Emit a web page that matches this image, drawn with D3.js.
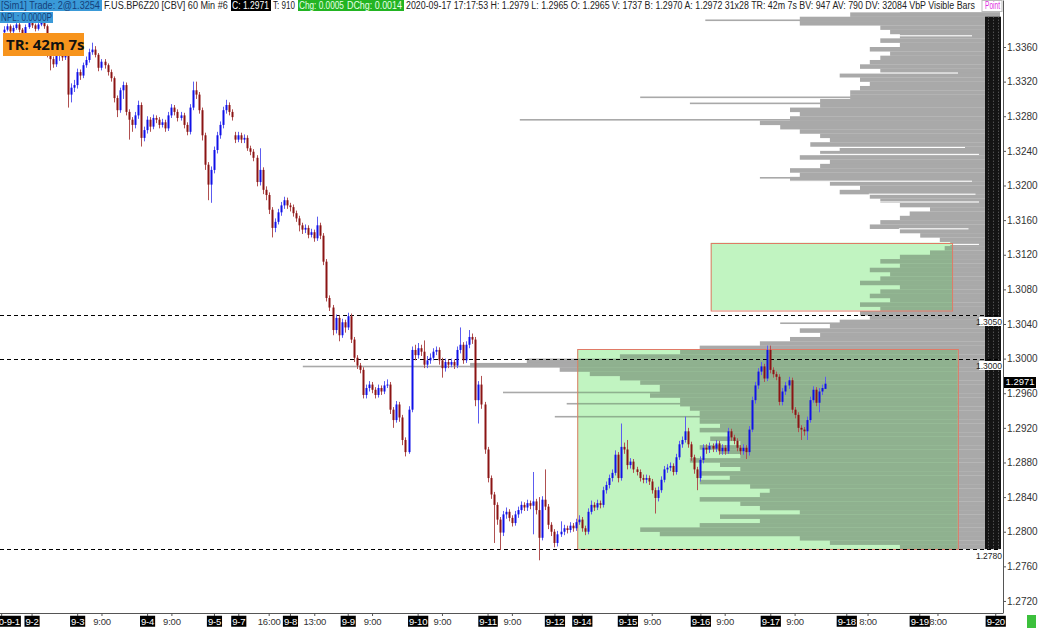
<!DOCTYPE html>
<html><head><meta charset="utf-8">
<script src="https://cdn.jsdelivr.net/npm/d3@7"></script>
<style>
body{margin:0;background:#fff;overflow:hidden;}
svg{display:block;font-family:"Liberation Sans","Open Sans",sans-serif;}
</style></head><body>
<svg id="c" width="1038" height="629"></svg>
<script>
// ---------------- DATA ----------------
const open = [1.3377,1.3380,1.3384,1.3378,1.3382,1.3386,1.3380,1.3376,1.3383,1.3388,
1.3385,1.3381,1.3386,1.3390,1.3384,1.3352,1.3346,1.3340,1.3350,1.3355,
1.3348,1.3352,1.3305,1.3313,1.3316,1.3331,1.3327,1.3339,1.3345,1.3354,
1.3357,1.3351,1.3336,1.3343,1.3339,1.3331,1.3324,1.3301,1.3287,1.3310,
1.3316,1.3285,1.3276,1.3270,1.3281,1.3293,1.3255,1.3264,1.3276,1.3268,
1.3278,1.3276,1.3270,1.3273,1.3266,1.3281,1.3290,1.3285,1.3278,1.3281,
1.3270,1.3262,1.3290,1.3310,1.3305,1.3287,1.3258,1.3224,1.3201,1.3218,
1.3241,1.3258,1.3270,1.3287,1.3293,1.3285,1.3258,1.3253,1.3258,1.3253,
1.3255,1.3243,1.3239,1.3232,1.3204,1.3218,1.3195,1.3189,1.3172,1.3151,
1.3158,1.3169,1.3177,1.3183,1.3177,1.3175,1.3168,1.3162,1.3154,1.3149,
1.3151,1.3143,1.3146,1.3139,1.3154,1.3142,1.3112,1.3070,1.3059,1.3033,
1.3047,1.3027,1.3042,1.3036,1.3049,1.3022,1.3001,1.2992,1.2987,1.2958,
1.2966,1.2970,1.2964,1.2958,1.2966,1.2962,1.2969,1.2970,1.2941,1.2929,
1.2947,1.2932,1.2906,1.2892,1.2941,1.3010,1.3004,1.3012,1.3008,1.2993,
1.2998,1.3001,1.3008,1.3010,1.2998,1.2989,1.2996,1.2993,1.2996,1.2992,
1.3010,1.3016,1.2998,1.3016,1.3025,1.3022,1.2952,1.2970,1.2947,1.2895,
1.2862,1.2843,1.2831,1.2814,1.2799,1.2820,1.2823,1.2816,1.2810,1.2820,
1.2825,1.2831,1.2828,1.2833,1.2830,1.2835,1.2825,1.2793,1.2837,1.2829,
1.2808,1.2800,1.2787,1.2797,1.2800,1.2804,1.2802,1.2807,1.2804,1.2811,
1.2814,1.2804,1.2800,1.2823,1.2831,1.2828,1.2833,1.2831,1.2848,1.2854,
1.2862,1.2868,1.2889,1.2862,1.2898,1.2895,1.2877,1.2881,1.2872,1.2869,
1.2862,1.2860,1.2862,1.2858,1.2848,1.2839,1.2848,1.2860,1.2872,1.2874,
1.2876,1.2869,1.2886,1.2901,1.2906,1.2916,1.2901,1.2886,1.2872,1.2862,
1.2883,1.2897,1.2895,1.2899,1.2896,1.2902,1.2893,1.2897,1.2893,1.2916,
1.2909,1.2905,1.2897,1.2893,1.2897,1.2892,1.2918,1.2952,1.2969,1.2985,
1.2991,1.2977,1.3010,1.2987,1.2982,1.2979,1.2950,1.2962,1.2969,1.2975,
1.2941,1.2935,1.2920,1.2918,1.2916,1.2929,1.2952,1.2964,1.2949,1.2962,
1.2965];
const high = [1.3384,1.3387,1.3386,1.3385,1.3390,1.3388,1.3382,1.3386,1.3392,1.3391,
1.3387,1.3389,1.3394,1.3392,1.3386,1.3356,1.3349,1.3354,1.3359,1.3358,
1.3356,1.3354,1.3318,1.3322,1.3335,1.3334,1.3342,1.3349,1.3358,1.3365,
1.3361,1.3353,1.3346,1.3346,1.3341,1.3334,1.3326,1.3304,1.3313,1.3320,
1.3319,1.3288,1.3279,1.3285,1.3298,1.3296,1.3268,1.3280,1.3279,1.3282,
1.3281,1.3279,1.3277,1.3276,1.3285,1.3294,1.3293,1.3288,1.3285,1.3284,
1.3273,1.3294,1.3320,1.3320,1.3308,1.3290,1.3261,1.3227,1.3222,1.3245,
1.3262,1.3274,1.3291,1.3299,1.3296,1.3288,1.3262,1.3262,1.3261,1.3259,
1.3258,1.3246,1.3242,1.3235,1.3243,1.3221,1.3199,1.3192,1.3175,1.3162,
1.3173,1.3181,1.3187,1.3186,1.3180,1.3178,1.3171,1.3165,1.3157,1.3155,
1.3154,1.3150,1.3149,1.3164,1.3157,1.3145,1.3115,1.3073,1.3062,1.3051,
1.3050,1.3046,1.3045,1.3053,1.3052,1.3025,1.3004,1.2995,1.2990,1.2970,
1.2974,1.2973,1.2967,1.2970,1.2969,1.2974,1.2976,1.2973,1.2944,1.2951,
1.2950,1.2935,1.2909,1.2945,1.3014,1.3016,1.3018,1.3016,1.3021,1.3003,
1.3006,1.3012,1.3014,1.3013,1.3001,1.3000,1.2999,1.3000,1.2999,1.3014,
1.3036,1.3019,1.3020,1.3033,1.3029,1.3025,1.2974,1.2980,1.2950,1.2898,
1.2865,1.2846,1.2834,1.2817,1.2824,1.2828,1.2826,1.2819,1.2824,1.2829,
1.2835,1.2834,1.2837,1.2836,1.2869,1.2838,1.2840,1.2841,1.2872,1.2832,
1.2811,1.2803,1.2801,1.2812,1.2808,1.2807,1.2811,1.2810,1.2815,1.2819,
1.2817,1.2807,1.2827,1.2836,1.2834,1.2837,1.2836,1.2852,1.2858,1.2866,
1.2872,1.2894,1.2892,1.2925,1.2903,1.2906,1.2885,1.2884,1.2875,1.2872,
1.2866,1.2866,1.2865,1.2861,1.2851,1.2852,1.2864,1.2876,1.2878,1.2880,
1.2879,1.2890,1.2905,1.2910,1.2933,1.2920,1.2904,1.2889,1.2875,1.2887,
1.2901,1.2901,1.2903,1.2902,1.2906,1.2905,1.2901,1.2900,1.2920,1.2919,
1.2912,1.2908,1.2900,1.2901,1.2900,1.2922,1.2956,1.2973,1.2989,1.2996,
1.2994,1.3015,1.3015,1.2990,1.2985,1.2982,1.2966,1.2973,1.2979,1.2978,
1.2944,1.2938,1.2923,1.2921,1.2933,1.2956,1.2968,1.2967,1.2966,1.2970,
1.2979];
const low = [1.3374,1.3378,1.3375,1.3376,1.3380,1.3377,1.3372,1.3374,1.3381,1.3382,
1.3378,1.3379,1.3384,1.3381,1.3348,1.3333,1.3336,1.3337,1.3344,1.3344,
1.3345,1.3290,1.3296,1.3308,1.3312,1.3322,1.3324,1.3336,1.3342,1.3351,
1.3348,1.3332,1.3333,1.3335,1.3327,1.3320,1.3296,1.3279,1.3284,1.3300,
1.3281,1.3253,1.3262,1.3266,1.3277,1.3245,1.3251,1.3260,1.3262,1.3265,
1.3272,1.3266,1.3267,1.3262,1.3263,1.3278,1.3281,1.3274,1.3275,1.3266,
1.3258,1.3259,1.3287,1.3300,1.3283,1.3252,1.3218,1.3183,1.3180,1.3214,
1.3237,1.3254,1.3266,1.3283,1.3281,1.3275,1.3249,1.3250,1.3249,1.3249,
1.3240,1.3235,1.3228,1.3199,1.3200,1.3190,1.3183,1.3167,1.3140,1.3146,
1.3155,1.3165,1.3173,1.3173,1.3170,1.3164,1.3158,1.3147,1.3144,1.3145,
1.3139,1.3140,1.3135,1.3136,1.3138,1.3108,1.3066,1.3055,1.3027,1.3029,
1.3020,1.3024,1.3030,1.3033,1.3018,1.2996,1.2988,1.2983,1.2954,1.2954,
1.2962,1.2960,1.2954,1.2955,1.2958,1.2959,1.2966,1.2936,1.2920,1.2926,
1.2927,1.2900,1.2887,1.2890,1.2938,1.2998,1.3000,1.3003,1.2989,1.2989,
1.2994,1.2998,1.3004,1.2993,1.2978,1.2985,1.2989,1.2990,1.2988,1.2989,
1.3006,1.2994,1.2995,1.3012,1.3017,1.2945,1.2925,1.2942,1.2890,1.2857,
1.2838,1.2787,1.2808,1.2779,1.2795,1.2815,1.2812,1.2806,1.2807,1.2816,
1.2821,1.2824,1.2824,1.2826,1.2797,1.2820,1.2767,1.2790,1.2825,1.2803,
1.2795,1.2782,1.2783,1.2794,1.2796,1.2798,1.2799,1.2800,1.2801,1.2808,
1.2800,1.2796,1.2797,1.2820,1.2824,1.2825,1.2827,1.2828,1.2844,1.2850,
1.2858,1.2865,1.2857,1.2859,1.2890,1.2872,1.2873,1.2868,1.2865,1.2858,
1.2856,1.2856,1.2854,1.2844,1.2821,1.2835,1.2845,1.2857,1.2868,1.2870,
1.2865,1.2866,1.2883,1.2897,1.2903,1.2897,1.2882,1.2867,1.2848,1.2858,
1.2879,1.2890,1.2891,1.2892,1.2892,1.2889,1.2889,1.2889,1.2890,1.2905,
1.2901,1.2893,1.2889,1.2889,1.2884,1.2888,1.2915,1.2948,1.2965,1.2981,
1.2973,1.2974,1.2983,1.2978,1.2975,1.2946,1.2946,1.2958,1.2965,1.2937,
1.2931,1.2915,1.2906,1.2911,1.2906,1.2926,1.2949,1.2945,1.2938,1.2958,
1.2965];
const close = [1.3380,1.3384,1.3378,1.3382,1.3386,1.3380,1.3376,1.3383,1.3388,1.3385,
1.3381,1.3386,1.3390,1.3384,1.3352,1.3346,1.3340,1.3350,1.3355,1.3348,
1.3352,1.3305,1.3313,1.3316,1.3331,1.3327,1.3339,1.3345,1.3354,1.3357,
1.3351,1.3336,1.3343,1.3339,1.3331,1.3324,1.3301,1.3287,1.3310,1.3316,
1.3285,1.3276,1.3270,1.3281,1.3293,1.3255,1.3264,1.3276,1.3268,1.3278,
1.3276,1.3270,1.3273,1.3266,1.3281,1.3290,1.3285,1.3278,1.3281,1.3270,
1.3262,1.3290,1.3310,1.3305,1.3287,1.3258,1.3224,1.3201,1.3218,1.3241,
1.3258,1.3270,1.3287,1.3293,1.3285,1.3279,1.3253,1.3258,1.3253,1.3255,
1.3243,1.3239,1.3232,1.3204,1.3218,1.3195,1.3189,1.3172,1.3151,1.3158,
1.3169,1.3177,1.3183,1.3177,1.3175,1.3168,1.3162,1.3154,1.3149,1.3151,
1.3143,1.3146,1.3139,1.3154,1.3142,1.3112,1.3070,1.3059,1.3033,1.3047,
1.3027,1.3042,1.3036,1.3049,1.3022,1.3001,1.2992,1.2987,1.2958,1.2966,
1.2970,1.2964,1.2958,1.2966,1.2962,1.2969,1.2970,1.2941,1.2929,1.2947,
1.2932,1.2906,1.2892,1.2941,1.3010,1.3004,1.3012,1.3008,1.2993,1.2998,
1.3001,1.3008,1.3010,1.2998,1.2989,1.2996,1.2993,1.2996,1.2992,1.3010,
1.3016,1.2998,1.3016,1.3025,1.3022,1.2952,1.2970,1.2947,1.2895,1.2862,
1.2843,1.2831,1.2814,1.2799,1.2820,1.2823,1.2816,1.2810,1.2820,1.2825,
1.2831,1.2828,1.2833,1.2830,1.2835,1.2825,1.2793,1.2837,1.2829,1.2808,
1.2800,1.2787,1.2797,1.2800,1.2804,1.2802,1.2807,1.2804,1.2811,1.2814,
1.2804,1.2800,1.2823,1.2831,1.2828,1.2833,1.2831,1.2848,1.2854,1.2862,
1.2868,1.2889,1.2862,1.2898,1.2895,1.2877,1.2881,1.2872,1.2869,1.2862,
1.2860,1.2862,1.2858,1.2848,1.2839,1.2848,1.2860,1.2872,1.2874,1.2876,
1.2869,1.2886,1.2901,1.2906,1.2916,1.2901,1.2886,1.2872,1.2862,1.2883,
1.2897,1.2895,1.2899,1.2896,1.2902,1.2893,1.2897,1.2893,1.2916,1.2909,
1.2905,1.2897,1.2893,1.2897,1.2892,1.2918,1.2952,1.2969,1.2985,1.2991,
1.2977,1.3010,1.2987,1.2982,1.2979,1.2950,1.2962,1.2969,1.2975,1.2941,
1.2935,1.2920,1.2918,1.2916,1.2929,1.2952,1.2964,1.2949,1.2962,1.2966,
1.2971];

// time axis (bar index of each label)
const xTickIdx = [-1,9,24,32,47,55,69,77,87,94,102,113,121,136,144,159,167,181,190,205,213,229,237,252,260,277,284,301,307,326];
const xTickLabel = ["2020-9-1","9-2","9-3","9:00","9-4","9:00","9-5","9-7","16:00","9-8","13:00","9-9","9:00","9-10","9:00","9-11","9:00","9-12","9-14","9-15","9:00","9-16","9:00","9-17","9:00","9-18","8:00","9-19","8:00","9-20"];
const yTicks = [1.2720,1.2760,1.2800,1.2840,1.2880,1.2920,1.2960,1.3000,1.3040,1.3080,1.3120,1.3160,1.3200,1.3240,1.3280,1.3320,1.3360];

// volume profile (visible bars), bins of 0.0005 from the top
const vpTop = 1.3410, vpStep = 0.0005;
const vpVol = [57,143,214,286,286,171,157,143,171,143,
186,157,171,186,200,171,229,200,186,200,
214,214,257,257,300,286,300,343,314,286,
257,243,271,229,257,286,243,257,300,286,
300,243,200,229,186,171,143,100,129,143,
171,186,143,114,86,71,79,100,143,171,
143,186,157,171,200,143,171,186,157,200,
171,200,186,229,243,286,257,300,343,429,
457,543,676,757,629,586,543,514,486,486,
500,457,457,443,429,429,429,400,429,386,
414,371,429,400,371,443,400,371,429,386,
429,357,329,343,429,371,343,286,400,343,
429,514,486,286,243,143];
// single-tick spikes of the profile
const vpSpikePrice = [1.3391,1.3302,1.3295,1.3276,1.3209,1.3041,1.2991,1.2961,1.2948,1.2933];
const vpSpikeVol   = [421,514,443,686,343,314,996,710,619,636];
// single-tick gaps (thin low-volume lines) inside the profile
const vpGapPrice = [1.3373,1.3330,1.3244,1.3236,1.3205,1.3190,1.3181,1.3150,1.3132];
const vpGapVol   = [40,60,50,30,40,35,30,45,30];

// zones
const zoneStart = [188.5,232.4], zoneEnd = [313.7,311.8];
const zoneHigh = [1.3011,1.3134], zoneLow = [1.2780,1.3056];
// horizontal levels
const levelPrice = [1.3050,1.3000,1.2780];
const levelLabel = ["1.3050","1.3000","1.2780"];
const lastPrice = 1.2971;

// ---------------- DRAW ----------------
const W=1038,H=629;
const svg = d3.select("#c");
const x = d3.scaleLinear().domain([0,270]).range([4.2,825]);
const y = d3.scaleLinear().domain([1.27061,1.34143]).range([613,0]);
const vw = d3.scaleLinear().domain([0,1000]).range([0,700]);
const VPR = 1000;

svg.append("rect").attr("width",W).attr("height",H).attr("fill","#fff");

// fit a text element into a given width by horizontal scaling
function fitText(sel, x0, w){
  const n = sel.node(); const nat = n.getComputedTextLength();
  const s = Math.min(1, w/nat);
  sel.attr("x",0).attr("transform",`translate(${x0},0) scale(${s},1)`);
}

const bins = vpVol.map((v,k)=>({t:vpTop-k*vpStep,b:vpTop-(k+1)*vpStep,v}));
const spikes = vpSpikePrice.map((p,i)=>({p,v:vpSpikeVol[i]}));
const gaps = vpGapPrice.map((p,i)=>({p,v:vpGapVol[i]}));
function binVolAt(p){ const k=Math.floor((vpTop-p)/vpStep); return vpVol[Math.max(0,Math.min(vpVol.length-1,k))]; }
function profile(g,color,bg){
  g.selectAll(".bin").data(bins).join("rect").attr("class","bin")
   .attr("x",d=>VPR-vw(d.v)).attr("y",d=>y(d.t)).attr("width",d=>vw(d.v))
   .attr("height",d=>y(d.b)-y(d.t)+0.2).attr("fill",color);
  g.selectAll(".gap").data(gaps).join("rect").attr("class","gap")
   .attr("x",d=>VPR-vw(binVolAt(d.p))-1).attr("y",d=>y(d.p)-0.5)
   .attr("width",d=>Math.max(0,vw(binVolAt(d.p))-vw(d.v))+1)
   .attr("height",1.1).attr("fill",bg);
  g.selectAll(".spk").data(spikes).join("rect").attr("class","spk")
   .attr("x",d=>VPR-vw(d.v)).attr("y",d=>y(d.p)-0.7).attr("width",d=>vw(d.v))
   .attr("height",1.6).attr("fill",color);
}
profile(svg.append("g"),"#a9a9a9","#fff");

const zones = zoneStart.map((s,i)=>({s,e:zoneEnd[i],h:zoneHigh[i],l:zoneLow[i]}));
const defs = svg.append("defs");
const cp = defs.append("clipPath").attr("id","zc");
cp.selectAll("rect").data(zones).join("rect")
  .attr("x",d=>x(d.s)).attr("y",d=>y(d.h)).attr("width",d=>x(d.e)-x(d.s)).attr("height",d=>y(d.l)-y(d.h));
svg.append("g").selectAll("rect").data(zones).join("rect")
  .attr("x",d=>x(d.s)).attr("y",d=>y(d.h)).attr("width",d=>x(d.e)-x(d.s)).attr("height",d=>y(d.l)-y(d.h))
  .attr("fill","#c1f4c1");
profile(svg.append("g").attr("clip-path","url(#zc)"),"#8fb18f","#c1f4c1");
svg.append("g").selectAll("rect").data(zones).join("rect")
  .attr("x",d=>x(d.s)+0.5).attr("y",d=>Math.round(y(d.h))+0.5).attr("width",d=>x(d.e)-x(d.s)).attr("height",d=>y(d.l)-y(d.h))
  .attr("fill","none").attr("stroke","#e07a66").attr("stroke-width",1);

// black VbP text strip
svg.append("rect").attr("x",985).attr("y",y(1.3395)).attr("width",16).attr("height",y(1.2780)-y(1.3395)).attr("fill","#141414");
[988.5,993.5,998.5].forEach(px=>svg.append("line").attr("x1",px).attr("x2",px).attr("y1",y(1.3395)).attr("y2",y(1.2780))
  .attr("stroke","#6a6a6a").attr("stroke-dasharray","1,2").attr("stroke-width",1));

// dashed levels
svg.append("g").selectAll("line").data(levelPrice).join("line")
  .attr("x1",0).attr("x2",1001).attr("y1",d=>Math.round(y(d))+0.5).attr("y2",d=>Math.round(y(d))+0.5)
  .attr("stroke","#000").attr("stroke-dasharray","4,3").attr("stroke-width",1);

// candles
const bars = close.map((c,i)=>({i,o:open[i],h:high[i],l:low[i],c}));
const cg = svg.append("g");
cg.selectAll("line").data(bars).join("line")
  .attr("x1",d=>Math.round(x(d.i))+0.5).attr("x2",d=>Math.round(x(d.i))+0.5)
  .attr("y1",d=>y(d.h)).attr("y2",d=>y(d.l))
  .attr("stroke",d=>d.c>=d.o?"#5c5cf0":"#b05050").attr("stroke-width",1);
cg.selectAll("rect").data(bars).join("rect")
  .attr("x",d=>Math.round(x(d.i))-0.5).attr("width",2)
  .attr("y",d=>y(Math.max(d.o,d.c))).attr("height",d=>Math.max(1,y(Math.min(d.o,d.c))-y(Math.max(d.o,d.c))))
  .attr("fill",d=>d.c>=d.o?"#1010e8":"#8b1414");

// level labels
levelPrice.forEach((p,i)=>{
  const yy = Math.round(y(p));
  svg.append("rect").attr("x",979).attr("y",yy+2).attr("width",24).attr("height",9).attr("fill","#fff");
  svg.append("text").attr("x",1002).attr("y",yy+10).attr("text-anchor","end").attr("font-size",8.5).attr("fill","#222").text(levelLabel[i]);
});

// right axis
const ya = svg.append("g").attr("transform","translate(1003,0)")
  .call(d3.axisRight(y).tickValues(yTicks).tickFormat(d3.format(".4f")).tickSize(3).tickSizeOuter(0));
ya.select(".domain").attr("stroke","#555");
ya.selectAll(".tick line").attr("stroke","#555");
ya.selectAll(".tick text").attr("font-size",10).attr("fill","#333").attr("x",4)
  .style("font-family","'Liberation Sans',sans-serif");
// last price tag
const ly = Math.round(y(lastPrice));
svg.append("rect").attr("x",1004).attr("y",ly-7).attr("width",32).attr("height",11).attr("fill","#000");
const lt = svg.append("text").attr("y",ly+1.5).attr("font-size",9.5).attr("fill","#fff").text(d3.format(".4f")(lastPrice));
fitText(lt,1005.5,29);

// bottom axis
svg.append("line").attr("x1",0).attr("x2",1003).attr("y1",613.5).attr("y2",613.5).attr("stroke","#555");
const xa = svg.append("g").attr("transform","translate(0,613)")
  .call(d3.axisBottom(x).tickValues(xTickIdx).tickFormat((d,i)=>xTickLabel[i]).tickSize(3).tickSizeOuter(0));
xa.select(".domain").remove();
xa.selectAll(".tick line").attr("stroke","#555");
xa.selectAll(".tick text").attr("font-size",9.5).attr("y",5).attr("fill","#333")
  .style("font-family","'Liberation Sans',sans-serif").style("letter-spacing","-0.2px");
xa.selectAll(".tick").each(function(d,i){
  if(xTickLabel[i].indexOf("-")<0) return;
  const t = d3.select(this).select("text").attr("fill","#fff");
  const bb = t.node().getBBox();
  d3.select(this).insert("rect","text").attr("x",bb.x-1).attr("y",bb.y).attr("width",bb.width+2).attr("height",bb.height).attr("fill","#000");
});
svg.append("rect").attr("x",1027).attr("y",615).attr("width",9).attr("height",13).attr("fill","#3cc03c");

// header
svg.append("rect").attr("x",0).attr("y",0).attr("width",1003).attr("height",12).attr("fill","#fff");
const hdr = [
 {x:0,w:101,t:"[Sim1]  Trade: 2@1.3254",bg:"#3a9ad8",fg:"#16407a"},
 {x:103,w:126,t:"F.US.BP6Z20 [CBV]  60 Min   #6",bg:null,fg:"#222"},
 {x:231,w:39,t:"C: 1.2971",bg:"#000",fg:"#fff"},
 {x:272,w:24,t:"T: 910",bg:null,fg:"#222"},
 {x:298,w:47,t:"Chg: 0.0005",bg:"#22b422",fg:"#e8ffe8"},
 {x:346,w:57,t:"DChg: 0.0014",bg:"#22b422",fg:"#e8ffe8"},
 {x:405,w:571,t:"2020-09-17 17:17:53 H: 1.2979 L: 1.2965 O: 1.2965 V: 1737 B: 1.2970 A: 1.2972 31x28 TR: 42m 7s BV: 947 AV: 790 DV: 32084 VbP Visible Bars",bg:null,fg:"#222"},
 {x:984,w:17,t:"Point",bg:"#fff",fg:"#e030e0"},
 {x:0,w:53,t:"NPL: 0.0000P",bg:"#3a9ad8",fg:"#16407a",row:1}
];
hdr.forEach(h=>{
  const yy = h.row?12:0;
  if(h.bg) svg.append("rect").attr("x",h.x).attr("y",yy).attr("width",h.w+ (h.row?0:1)).attr("height",11).attr("fill",h.bg);
  const t = svg.append("text").attr("y",yy+9.3).attr("font-size",10).attr("fill",h.fg)
    .style("font-family","'Liberation Sans',sans-serif").text(h.t);
  fitText(t,h.x+1,h.w-2);
});
svg.append("rect").attr("x",982).attr("y",0.5).attr("width",20).attr("height",11).attr("fill","none").attr("stroke","#bbb");
// TR box
svg.append("rect").attr("x",3).attr("y",33).attr("width",81).attr("height",23).attr("fill","#f7941d");
svg.append("text").attr("x",6).attr("y",50).attr("font-size",15).attr("font-weight","bold").attr("fill","#111")
  .style("font-family","'Open Sans',sans-serif").text("TR: 42m 7s");
</script>
</body></html>
